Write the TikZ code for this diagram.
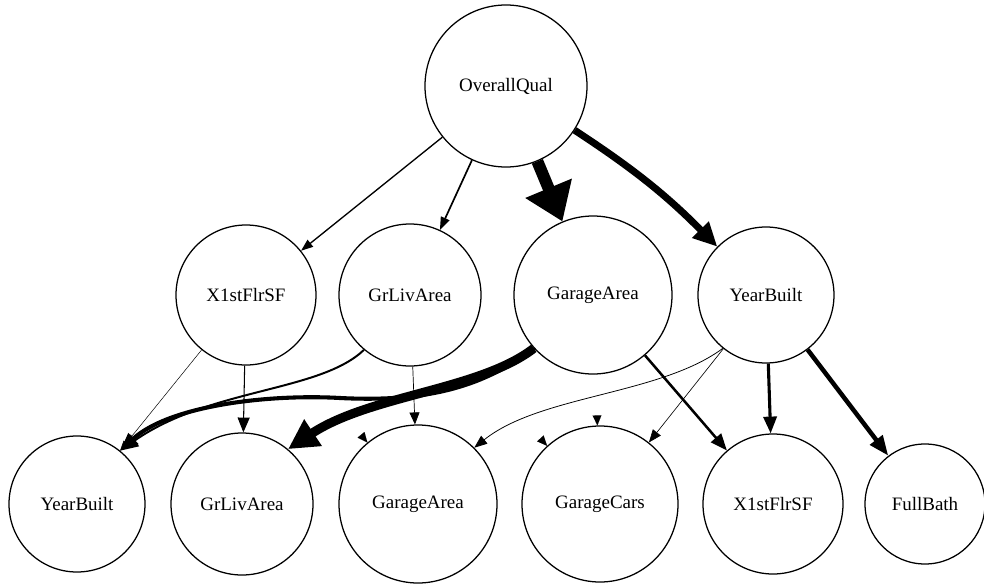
\documentclass[tikz,border=0pt]{standalone}
\usepackage{fontspec}
\setmainfont{Liberation Serif}
\usetikzlibrary{arrows.meta}
\tikzset{
  var/.style={draw, circle, line width=0.9pt, inner sep=0pt, font=\fontsize{13.5}{16}\selectfont},
  wt/.style n args={3}{line width=#1, -{Triangle[length=#2, width=#3]}},
  tiponly/.style={draw=white, line width=0.01pt, -{Triangle[length=2.5mm, width=2.2mm, black]}},
}

\begin{document}
\begin{tikzpicture}[x=0.25mm, y=-0.25mm]
  \path[use as bounding box, fill=white] (0,0) rectangle (984,584);
  % top and middle row
  \node[var, minimum size=40.5mm] (qual) at (506,86) {OverallQual};
  \node[var, minimum size=35mm] (flr1) at (246,295) {X1stFlrSF};
  \node[var, minimum size=35.5mm] (liv1) at (410,295) {GrLivArea};
  \node[var, minimum size=39.5mm] (gar1) at (593,295) {GarageArea};
  \node[var, minimum size=34mm] (yr1) at (766,295) {YearBuilt};
  % bottom row
  \node[var, minimum size=34mm] (yr2) at (77,504) {YearBuilt};
  \node[var, minimum size=35.5mm] (liv2) at (242,504) {GrLivArea};
  \node[var, minimum size=39.5mm] (gar2) at (418,504) {GarageArea};
  \node[var, minimum size=39mm] (cars) at (600,504) {GarageCars};
  \node[var, minimum size=35mm] (flr2) at (773,504) {X1stFlrSF};
  \node[var, minimum size=30mm] (bath) at (925,504) {FullBath};

  % edges of no weight: only the tips show
  \draw[tiponly] (flr1) -- (gar2);
  \draw[tiponly] (liv1) -- (cars);
  \draw[tiponly] (gar1) -- (cars);

  \draw[wt={0.95pt}{3mm}{2.2mm}] (qual) -- (flr1);
  \draw[wt={1.2pt}{3.2mm}{2.3mm}] (qual) -- (liv1);
  \draw[wt={8.5pt}{9mm}{12mm}] (qual) -- (gar1);
  \draw[wt={5pt}{6mm}{5.5mm}] (qual) to[bend left=6] (yr1);

  \draw[wt={0.35pt}{2.5mm}{1.8mm}] (flr1) -- (yr2);
  \draw[wt={0.75pt}{3.7mm}{3mm}] (flr1) -- (liv2);
  \draw[wt={1.4pt}{4.5mm}{3.5mm}] (liv1.230) .. controls (320,392) and (210,388) .. (yr2.51);
  \draw[wt={2.9pt}{4.5mm}{3.5mm}] (gar1.222) .. controls (480,390) and (420,402) .. (340,398)
    .. controls (270,394) and (170,405) .. (yr2.51);
  \draw[wt={6.5pt}{7.5mm}{7.5mm}] (gar1.222) .. controls (480,390) and (370,395) .. (liv2.50);
  \draw[wt={0.5pt}{3mm}{2.5mm}] (liv1) -- (gar2);

  \draw[wt={0.55pt}{3.2mm}{2.5mm}] (yr1.231) .. controls (660,395) and (540,395) .. (gar2.45);
  \draw[wt={0.45pt}{3.2mm}{2.5mm}] (yr1) -- (cars);
  \draw[wt={1.8pt}{4.2mm}{3.3mm}] (gar1) -- (flr2);
  \draw[wt={2.2pt}{4.2mm}{3.3mm}] (yr1) -- (flr2);
  \draw[wt={3.2pt}{5mm}{3.8mm}] (yr1) -- (bath);
\end{tikzpicture}
\end{document}
